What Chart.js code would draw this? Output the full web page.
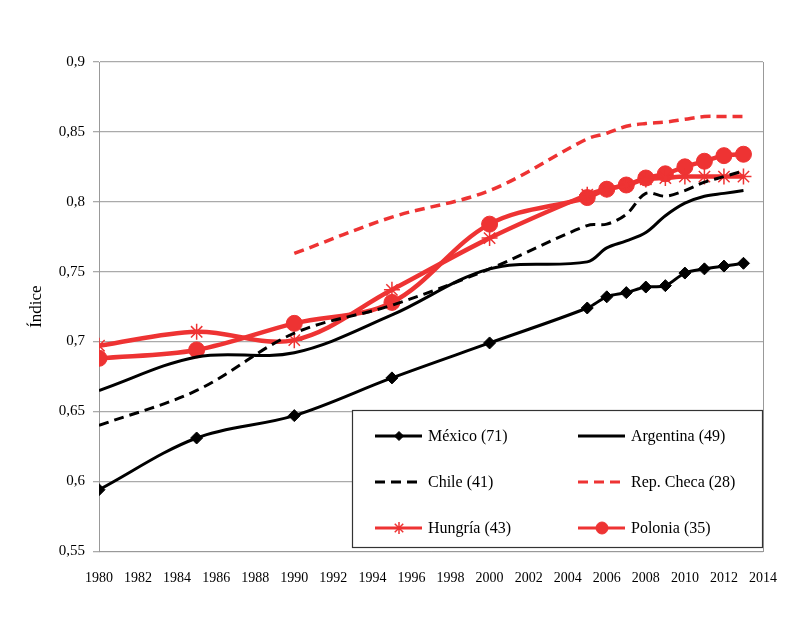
<!DOCTYPE html>
<html lang="es">
<head>
<meta charset="UTF-8">
<title>Índice</title>
<script src="https://cdn.jsdelivr.net/npm/chart.js"></script>
<style>
  html, body { margin: 0; padding: 0; background: #ffffff; }
  #wrap { width: 799px; height: 617px; }
</style>
</head>
<body>
<div id="wrap"><canvas id="grafico" width="799" height="617"></canvas></div>
<script>
// años con datos
var anios = [1980, 1985, 1990, 1995, 2000, 2005, 2006, 2007, 2008, 2009, 2010, 2011, 2012, 2013];
var aniosCheca = [1990, 1995, 2000, 2005, 2006, 2007, 2008, 2009, 2010, 2011, 2012, 2013];

var mexico    = [0.594, 0.631, 0.647, 0.674, 0.699, 0.724, 0.732, 0.735, 0.739, 0.740, 0.749, 0.752, 0.754, 0.756];
var argentina = [0.665, 0.689, 0.692, 0.719, 0.752, 0.757, 0.767, 0.772, 0.778, 0.790, 0.799, 0.804, 0.806, 0.808];
var chile     = [0.640, 0.665, 0.706, 0.726, 0.752, 0.783, 0.784, 0.791, 0.806, 0.804, 0.808, 0.814, 0.818, 0.822];
var checa     = [0.763, 0.789, 0.808, 0.845, 0.849, 0.854, 0.856, 0.857, 0.859, 0.861, 0.861, 0.861];
var hungria   = [0.697, 0.707, 0.701, 0.737, 0.774, 0.805, 0.809, 0.812, 0.816, 0.817, 0.818, 0.818, 0.818, 0.818];
var polonia   = [0.688, 0.694, 0.713, 0.728, 0.784, 0.803, 0.809, 0.812, 0.817, 0.820, 0.825, 0.829, 0.833, 0.834];

var etiquetas = ['México (71)', 'Argentina (49)', 'Chile (41)', 'Rep. Checa (28)', 'Hungría (43)', 'Polonia (35)'];

function puntos(xs, ys) {
  return xs.map(function (x, i) { return { x: x, y: ys[i] }; });
}

var ROJO = '#ee3333';
var fuente = "'Liberation Serif', 'DejaVu Serif', serif";

// leyenda dentro del gráfico, con recuadro
var leyendaCaja = {
  id: 'leyendaCaja',
  afterDraw: function (chart) {
    var ctx = chart.ctx;
    var x0 = 352, y0 = 410, w = 410, h = 137;
    ctx.save();
    ctx.fillStyle = '#ffffff';
    ctx.fillRect(x0, y0, w, h);
    ctx.strokeStyle = '#333333';
    ctx.lineWidth = 1.2;
    ctx.strokeRect(x0 + 0.5, y0 + 0.5, w, h);

    var cols = [375, 578];
    var filas = [436, 482, 528];
    chart.data.datasets.forEach(function (ds, i) {
      var lx = cols[i % 2], ly = filas[Math.floor(i / 2)];
      ctx.strokeStyle = ds.borderColor;
      ctx.lineWidth = Math.min(ds.borderWidth, 3);
      ctx.setLineDash(ds.borderDash || []);
      ctx.beginPath();
      ctx.moveTo(lx, ly);
      ctx.lineTo(lx + 47, ly);
      ctx.stroke();
      ctx.setLineDash([]);
      if (ds.pointStyle && ds.pointRadius > 0) {
        ctx.fillStyle = ds.pointBackgroundColor;
        ctx.strokeStyle = ds.pointBorderColor;
        ctx.lineWidth = ds.pointBorderWidth;
        Chart.helpers.drawPoint(ctx, {
          pointStyle: ds.pointStyle,
          radius: ds.pointRadius * 0.75,
          borderWidth: ds.pointBorderWidth,
          rotation: 0
        }, lx + 24, ly);
      }
      ctx.fillStyle = '#000000';
      ctx.font = '16px ' + fuente;
      ctx.textBaseline = 'middle';
      ctx.textAlign = 'left';
      ctx.fillText(ds.label, lx + 53, ly + 1);
    });
    ctx.restore();
  }
};

// borde derecho del área de trazado
var bordeDerecho = {
  id: 'bordeDerecho',
  beforeDatasetsDraw: function (chart) {
    var a = chart.chartArea, ctx = chart.ctx;
    ctx.save();
    ctx.strokeStyle = '#999999';
    ctx.lineWidth = 1;
    ctx.beginPath();
    ctx.moveTo(Math.round(a.right) + 0.5, a.top);
    ctx.lineTo(Math.round(a.right) + 0.5, a.bottom);
    ctx.stroke();
    ctx.restore();
  }
};

var ctx = document.getElementById('grafico').getContext('2d');
new Chart(ctx, {
  type: 'line',
  data: {
    datasets: [
      {
        label: etiquetas[0], data: puntos(anios, mexico),
        borderColor: '#000000', borderWidth: 3,
        pointStyle: 'rectRot', pointRadius: 6, pointBackgroundColor: '#000000',
        pointBorderColor: '#000000', pointBorderWidth: 1
      },
      {
        label: etiquetas[1], data: puntos(anios, argentina),
        borderColor: '#000000', borderWidth: 3, pointRadius: 0
      },
      {
        label: etiquetas[2], data: puntos(anios, chile),
        borderColor: '#000000', borderWidth: 3, borderDash: [10, 6], pointRadius: 0
      },
      {
        label: etiquetas[3], data: puntos(aniosCheca, checa),
        borderColor: ROJO, borderWidth: 3.5, borderDash: [10, 6], pointRadius: 0
      },
      {
        label: etiquetas[4], data: puntos(anios, hungria),
        borderColor: ROJO, borderWidth: 4.5,
        pointStyle: 'star', pointRadius: 8, pointBackgroundColor: ROJO,
        pointBorderColor: ROJO, pointBorderWidth: 1.5
      },
      {
        label: etiquetas[5], data: puntos(anios, polonia),
        borderColor: ROJO, borderWidth: 4.5,
        pointStyle: 'circle', pointRadius: 8, pointBackgroundColor: ROJO,
        pointBorderColor: ROJO, pointBorderWidth: 1
      }
    ]
  },
  options: {
    responsive: false,
    animation: false,
    layout: { padding: { top: 62, right: 36, bottom: 16, left: 26 } },
    elements: { line: { tension: 0.35, fill: false } },
    plugins: {
      legend: { display: false },
      tooltip: { enabled: false }
    },
    scales: {
      x: {
        type: 'linear',
        min: 1980, max: 2014,
        grid: { display: false, drawTicks: true, tickLength: 5, color: '#999999' },
        border: { color: '#999999' },
        ticks: {
          stepSize: 2, color: '#000000', padding: 14,
          font: { family: fuente, size: 14 },
          callback: function (v) { return String(v); }
        }
      },
      y: {
        min: 0.55, max: 0.9,
        afterFit: function (s) { s.width = 73; },
        grid: { color: '#aaaaaa', lineWidth: 1.3, tickLength: 6 },
        border: { color: '#999999' },
        title: {
          display: true, text: 'Índice', color: '#000000',
          font: { family: fuente, size: 17 }, padding: 0
        },
        ticks: {
          stepSize: 0.05, color: '#000000', padding: 8,
          font: { family: fuente, size: 15 },
          callback: function (v) {
            return (Math.round(v * 100) / 100).toString().replace('.', ',');
          }
        }
      }
    }
  },
  plugins: [bordeDerecho, leyendaCaja]
});
</script>
</body>
</html>
